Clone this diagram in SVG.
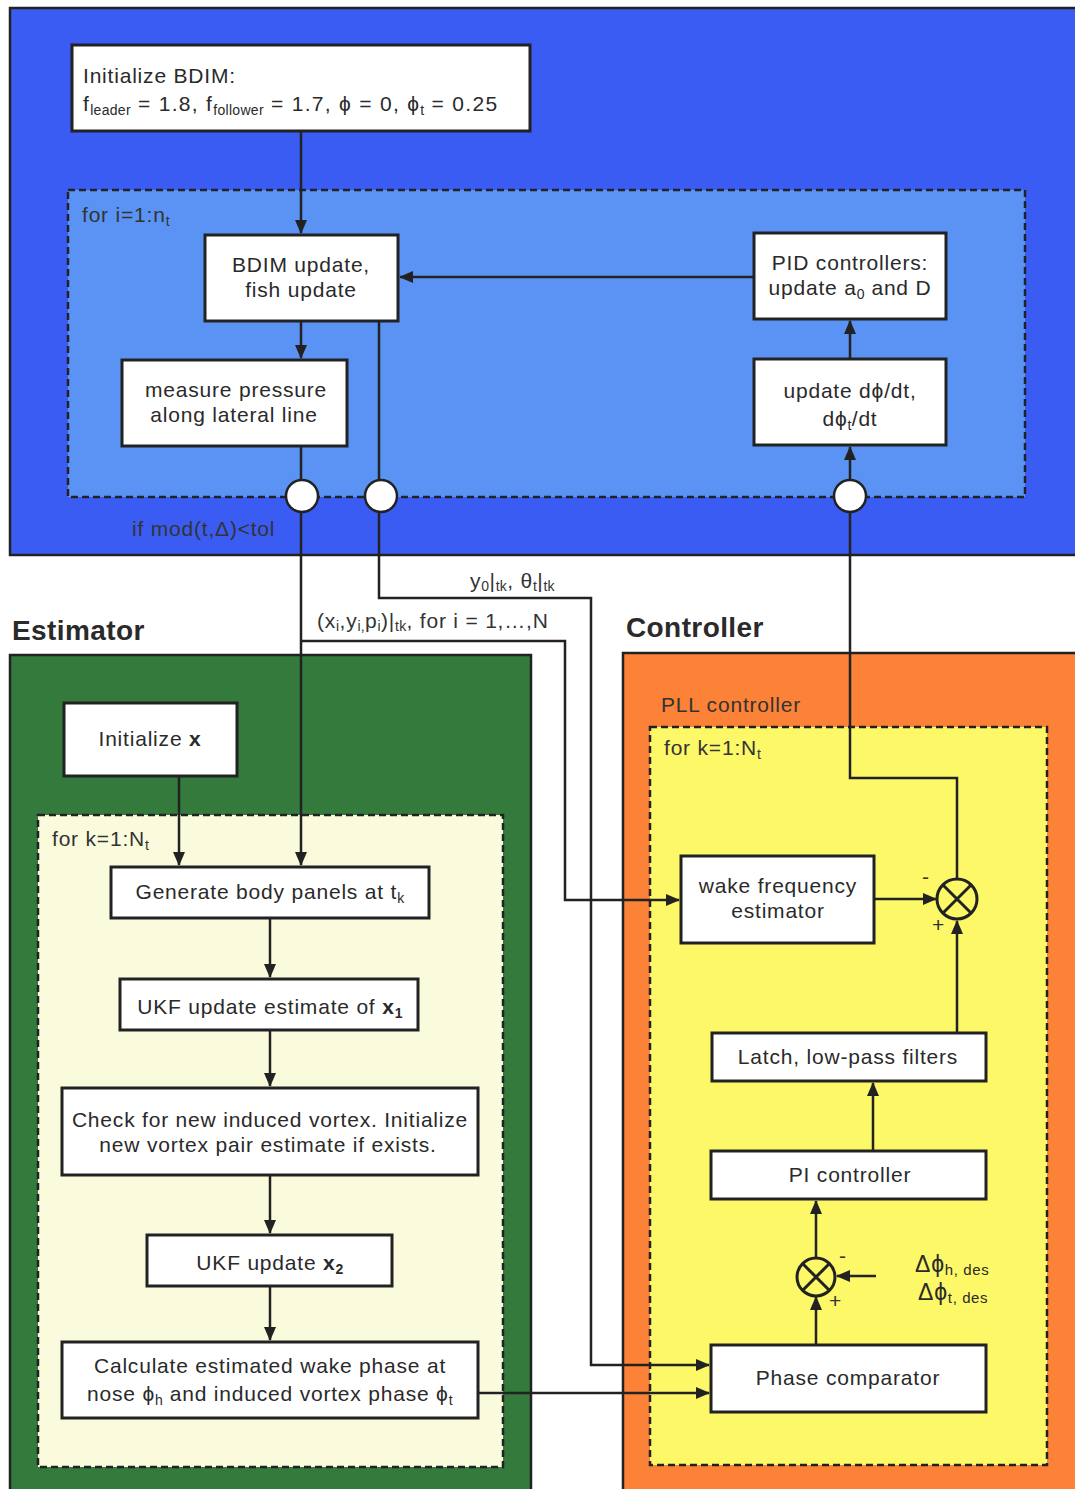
<svg xmlns="http://www.w3.org/2000/svg" width="1075" height="1489" viewBox="0 0 1075 1489">
  <defs>
    <marker id="arrow" markerUnits="userSpaceOnUse" markerWidth="14" markerHeight="12" refX="13" refY="6" orient="auto">
      <path d="M0,0 L14,6 L0,12 Z" fill="#222"/>
    </marker>
    <style>
      text { font-family: "Liberation Sans", Arial, sans-serif; font-size: 21px; letter-spacing: 0.8px; fill: #2a2a2a; }
      .title { font-size: 28px; font-weight: bold; letter-spacing: 0.4px; fill: #2a2a2a; }
      .mid { text-anchor: middle; }
      .sub { font-size: 14px; letter-spacing: 0.3px; }
      .wide { letter-spacing: 1.3px; }
      .lbl { font-size: 21px; letter-spacing: 0.8px; fill: #333; }
      .ref { font-size: 23px; }
      .ref .sub { font-size: 15px; letter-spacing: 0.6px; }
      .box { fill: #ffffff; stroke: #222; stroke-width: 3; }
      .panel { stroke: #222; stroke-width: 2.5; }
      .loop { stroke: #222; stroke-width: 2.5; stroke-dasharray: 7 4; }
      .arr { fill: none; stroke: #222; stroke-width: 2.5; marker-end: url(#arrow); }
      .tap { fill: #ffffff; stroke: #222; stroke-width: 2.5; }
      .sum { fill: none; stroke: #222; stroke-width: 3; }
    </style>
  </defs>

  <rect width="1075" height="1489" fill="#ffffff"/>

  <!-- Simulation panel (BDIM) -->
  <g id="simulation-panel">
    <rect x="10" y="8" width="1080" height="547" fill="#3a5cf2" class="panel"/>
    <rect x="68" y="190" width="957" height="307" fill="#5b93f4" class="loop"/>
    <text x="82" y="222" class="lbl">for i=1:n<tspan class="sub" dy="4">t</tspan></text>
    <text x="132" y="536" class="lbl">if mod(t,Δ)&lt;tol</text>
  </g>

  <!-- Estimator panel -->
  <g id="estimator-panel">
    <text x="12" y="640" class="title">Estimator</text>
    <rect x="10" y="655" width="521" height="850" fill="#337a3c" class="panel"/>
    <rect x="38" y="815" width="465" height="652" fill="#f9fbdc" class="loop"/>
    <text x="52" y="846" class="lbl">for k=1:N<tspan class="sub" dy="4">t</tspan></text>
  </g>

  <!-- Controller panel -->
  <g id="controller-panel">
    <text x="626" y="637" class="title">Controller</text>
    <rect x="623" y="653" width="470" height="850" fill="#fb8236" class="panel"/>
    <rect x="650" y="727" width="397" height="738" fill="#fcf868" class="loop"/>
    <text x="661" y="712" class="lbl">PLL controller</text>
    <text x="664" y="755" class="lbl">for k=1:N<tspan class="sub" dy="4">t</tspan></text>
  </g>

  <!-- Connectors -->
  <g id="connectors">
    <path class="arr" d="M301,131 V233"/>
    <path class="arr" d="M301,321 V358"/>
    <path class="arr" d="M754,277 H400"/>
    <path class="arr" d="M850,359 V321"/>
    <path class="arr" d="M957,879 V778 H850 V447"/>
    <path class="arr" d="M301,446 V865"/>
    <path class="arr" d="M301,641 H565 V900 H679"/>
    <path class="arr" d="M379,321 V598 H591 V1365 H709"/>
    <path class="arr" d="M179,776 V865"/>
    <path class="arr" d="M270,918 V977"/>
    <path class="arr" d="M270,1030 V1086"/>
    <path class="arr" d="M270,1175 V1233"/>
    <path class="arr" d="M270,1286 V1340"/>
    <path class="arr" d="M478,1393 H709"/>
    <path class="arr" d="M874,899 H936"/>
    <path class="arr" d="M957,1033 V921"/>
    <path class="arr" d="M873,1151 V1083"/>
    <path class="arr" d="M816,1345 V1297"/>
    <path class="arr" d="M816,1258 V1201"/>
    <path class="arr" d="M876,1276 H837"/>
  </g>

  <!-- Sampling taps on the loop boundary -->
  <g id="tap-pressure"><circle cx="302" cy="496" r="16" class="tap"/></g>
  <g id="tap-pose"><circle cx="381" cy="496" r="16" class="tap"/></g>
  <g id="tap-rate"><circle cx="850" cy="496" r="16" class="tap"/></g>

  <!-- Signal labels -->
  <g id="signal-labels">
    <text x="470" y="588" class="lbl">y<tspan class="sub" dy="3">0</tspan><tspan dy="-3">|</tspan><tspan class="sub" dy="3">tk</tspan><tspan dy="-3">, θ</tspan><tspan class="sub" dy="3">t</tspan><tspan dy="-3">|</tspan><tspan class="sub" dy="3">tk</tspan></text>
    <text x="317" y="628" class="lbl">(x<tspan class="sub" dy="3">i</tspan><tspan dy="-3">,y</tspan><tspan class="sub" dy="3">i,</tspan><tspan dy="-3">p</tspan><tspan class="sub" dy="3">i</tspan><tspan dy="-3">)|</tspan><tspan class="sub" dy="3">tk</tspan><tspan dy="-3">, for i = 1,…,N</tspan></text>
  </g>

  <!-- Simulation nodes -->
  <g id="init-bdim">
    <rect x="72" y="45" width="458" height="86" class="box"/>
    <text x="83" y="83">Initialize BDIM:</text>
    <text x="83" y="111" class="wide">f<tspan class="sub" dy="4">leader</tspan><tspan dy="-4"> = 1.8, f</tspan><tspan class="sub" dy="4">follower</tspan><tspan dy="-4"> = 1.7, ϕ = 0, ϕ</tspan><tspan class="sub" dy="4">t</tspan><tspan dy="-4"> = 0.25</tspan></text>
  </g>
  <g id="bdim-update">
    <rect x="205" y="235" width="193" height="86" class="box"/>
    <text x="301" y="272" class="mid">BDIM update,</text>
    <text x="301" y="297" class="mid">fish update</text>
  </g>
  <g id="measure-pressure">
    <rect x="122" y="360" width="225" height="86" class="box"/>
    <text x="236" y="397" class="mid">measure pressure</text>
    <text x="234" y="422" class="mid">along lateral line</text>
  </g>
  <g id="pid-controllers">
    <rect x="754" y="233" width="192" height="86" class="box"/>
    <text x="850" y="270" class="mid">PID controllers:</text>
    <text x="850" y="295" class="mid">update a<tspan class="sub" dy="4">0</tspan><tspan dy="-4"> and D</tspan></text>
  </g>
  <g id="update-rates">
    <rect x="754" y="359" width="192" height="86" class="box"/>
    <text x="850" y="398" class="mid">update dϕ/dt,</text>
    <text x="850" y="426" class="mid">dϕ<tspan class="sub" dy="4">t</tspan><tspan dy="-4">/dt</tspan></text>
  </g>

  <!-- Estimator nodes -->
  <g id="init-x">
    <rect x="64" y="703" width="173" height="73" class="box"/>
    <text x="150" y="746" class="mid">Initialize <tspan font-weight="bold">x</tspan></text>
  </g>
  <g id="body-panels">
    <rect x="111" y="867" width="318" height="51" class="box"/>
    <text x="270" y="899" class="mid">Generate body panels at t<tspan class="sub" dy="4">k</tspan></text>
  </g>
  <g id="ukf-x1">
    <rect x="120" y="979" width="298" height="51" class="box"/>
    <text x="270" y="1014" class="mid">UKF update estimate of <tspan font-weight="bold">x</tspan><tspan class="sub" font-weight="bold" dy="4">1</tspan></text>
  </g>
  <g id="check-vortex">
    <rect x="62" y="1088" width="416" height="87" class="box"/>
    <text x="270" y="1127" class="mid">Check for new induced vortex. Initialize</text>
    <text x="268" y="1152" class="mid">new vortex pair estimate if exists.</text>
  </g>
  <g id="ukf-x2">
    <rect x="147" y="1235" width="245" height="51" class="box"/>
    <text x="270" y="1270" class="mid">UKF update <tspan font-weight="bold">x</tspan><tspan class="sub" font-weight="bold" dy="4">2</tspan></text>
  </g>
  <g id="wake-phase">
    <rect x="62" y="1342" width="416" height="76" class="box"/>
    <text x="270" y="1373" class="mid">Calculate estimated wake phase at</text>
    <text x="270" y="1401" class="mid">nose ϕ<tspan class="sub" dy="4">h</tspan><tspan dy="-4"> and induced vortex phase ϕ</tspan><tspan class="sub" dy="4">t</tspan></text>
  </g>

  <!-- Controller nodes -->
  <g id="wake-frequency">
    <rect x="681" y="856" width="193" height="87" class="box"/>
    <text x="778" y="893" class="mid">wake frequency</text>
    <text x="778" y="918" class="mid">estimator</text>
  </g>
  <g id="sum-frequency">
    <circle cx="957" cy="899" r="20" class="sum"/>
    <path class="sum" d="M943,885 L971,913 M971,885 L943,913"/>
    <text x="922" y="884" class="lbl">-</text>
    <text x="932" y="932" class="lbl">+</text>
  </g>
  <g id="latch-filters">
    <rect x="712" y="1033" width="274" height="48" class="box"/>
    <text x="848" y="1064" class="mid">Latch, low-pass filters</text>
  </g>
  <g id="pi-controller">
    <rect x="711" y="1151" width="275" height="48" class="box"/>
    <text x="850" y="1182" class="mid">PI controller</text>
  </g>
  <g id="sum-phase">
    <circle cx="816" cy="1277" r="19" class="sum"/>
    <path class="sum" d="M803,1264 L829,1290 M829,1264 L803,1290"/>
    <text x="839" y="1263" class="lbl">-</text>
    <text x="829" y="1308" class="lbl">+</text>
    <text x="915" y="1272" class="ref">Δϕ<tspan class="sub" dy="3">h, des</tspan></text>
    <text x="918" y="1300" class="ref">Δϕ<tspan class="sub" dy="3">t, des</tspan></text>
  </g>
  <g id="phase-comparator">
    <rect x="711" y="1345" width="275" height="67" class="box"/>
    <text x="848" y="1385" class="mid">Phase comparator</text>
  </g>
</svg>
